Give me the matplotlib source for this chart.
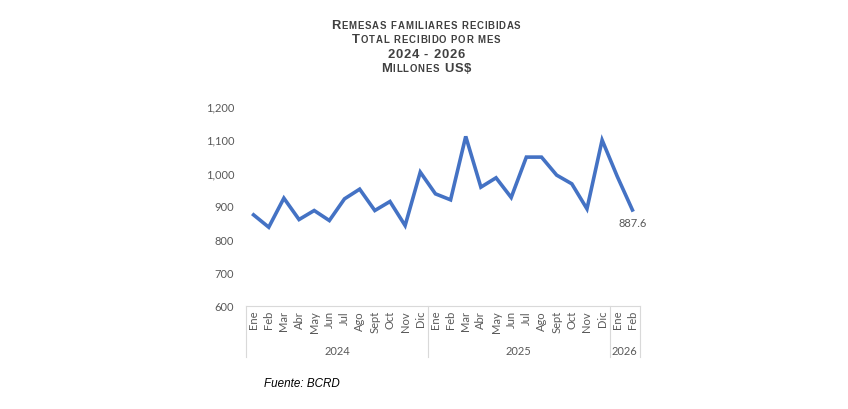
import matplotlib
matplotlib.use("Agg")
import matplotlib.pyplot as plt
from matplotlib.offsetbox import TextArea, HPacker, AnnotationBbox
import matplotlib.transforms as mtransforms

months = ["Ene", "Feb", "Mar", "Abr", "May", "Jun", "Jul", "Ago", "Sept", "Oct", "Nov", "Dic",
          "Ene", "Feb", "Mar", "Abr", "May", "Jun", "Jul", "Ago", "Sept", "Oct", "Nov", "Dic",
          "Ene", "Feb"]
years = ["2024", "2025", "2026"]
year_counts = [12, 12, 2]
values = [873, 836, 923, 859, 886, 856, 921, 950, 886, 913, 841, 1001,
          936, 918, 1108, 956, 984, 925, 1046, 1046, 992, 966, 891, 1097,
          988, 887.6]
yticks = [600, 700, 800, 900, 1000, 1100, 1200]

GRAY = "#595959"
LINE = "#d9d9d9"
BLUE = "#4472C4"
TICKFONT = ["Lato", "DejaVu Sans"]

fig = plt.figure(figsize=(8.48, 4.10), dpi=100)
W, H = 848, 410
ax = fig.add_axes([246 / W, 1 - 307 / H, (640 - 246) / W, (307 - 106.7) / H])

x = list(range(len(values)))
ax.plot(x, values, color=BLUE, lw=2.6, solid_joinstyle="miter")
ax.set_xlim(-0.5, len(values) - 0.5)
ax.set_ylim(600, 1200)
ax.set_yticks(yticks)
ax.set_yticklabels([f"{v:,}" for v in yticks], fontsize=8, color=GRAY, family=TICKFONT)
ax.tick_params(axis="y", length=0, pad=8.5)
ax.set_xticks([])
for s in ["left", "right", "top"]:
    ax.spines[s].set_visible(False)
ax.spines["bottom"].set_color(LINE)
ax.spines["bottom"].set_linewidth(0.8)

# data label
ax.annotate(f"{values[-1]:.1f}", (x[-1], values[-1]), xytext=(0.5, -4.8), textcoords="offset points",
            ha="center", va="top", fontsize=8, color=GRAY, family=TICKFONT)

# category axis
axh_px = 307 - 106.7
trans = mtransforms.blended_transform_factory(ax.transData, ax.transAxes)
for i, m in enumerate(months):
    ax.text(i, -4 / axh_px, m, rotation=90, ha="center", va="top", fontsize=8,
            color=GRAY, family=TICKFONT, transform=trans)
bounds = [-0.5]
for c in year_counts:
    bounds.append(bounds[-1] + c)
for b in bounds:
    ax.plot([b, b], [0, -51 / axh_px], color=LINE, lw=0.8, transform=trans, clip_on=False)
for yname, a, b in zip(years, bounds[:-1], bounds[1:]):
    ax.text((a + b) / 2, -45 / axh_px, yname, ha="center", va="center", fontsize=8,
            color=GRAY, family=TICKFONT, transform=trans)

# small-caps title, slightly letter-spaced
TC = "#404040"
big = dict(fontsize=9.4, fontweight="bold", color=TC, family="Liberation Sans")
small = dict(fontsize=6.9, fontweight="bold", color=TC, family="Liberation Sans")
SEP = 0.6

def sc_line(parts):
    kids = []
    for t, b in parts:
        for ch in t:
            kids.append(TextArea(ch, textprops=(big if b else small)))
    return HPacker(children=kids, align="baseline", pad=0, sep=SEP)

lines = [
    (sc_line([("R", True), ("EMESAS FAMILIARES RECIBIDAS", False)]), 26.2),
    (sc_line([("T", True), ("OTAL RECIBIDO POR MES", False)]), 40.2),
    (sc_line([("2024 - 2026", True)]), 55.0),
    (sc_line([("M", True), ("ILLONES", False), (" US$", True)]), 69.5),
]
for box, yc in lines:
    ab = AnnotationBbox(box, (426 / W, 1 - yc / H), xycoords="figure fraction",
                        box_alignment=(0.5, 0.5), frameon=False, annotation_clip=False)
    fig.add_artist(ab)

fig.text(264 / W, 1 - 384 / H, "Fuente: BCRD", fontsize=8.4, style="italic",
         color="#000000", family="Liberation Sans", ha="left", va="center")

fig.savefig("out.png", dpi=100, facecolor="white")
